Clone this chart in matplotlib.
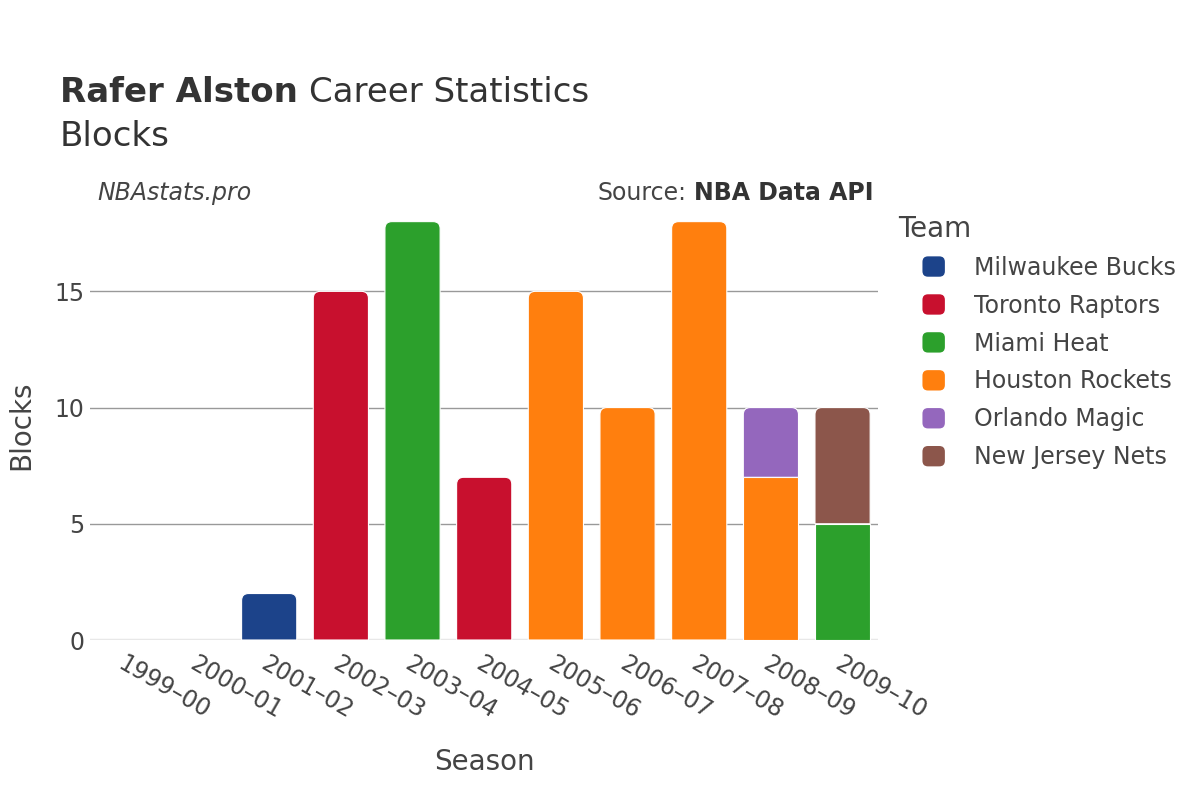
import numpy as np
import matplotlib.pyplot as plt
from matplotlib.path import Path
from matplotlib.patches import PathPatch, Patch, FancyBboxPatch
from matplotlib.legend_handler import HandlerPatch

plt.rcParams['font.family'] = ['DejaVu Sans']

seasons = ["1999–00", "2000–01", "2001–02", "2002–03", "2003–04", "2004–05",
           "2005–06", "2006–07", "2007–08", "2008–09", "2009–10"]
teams = ["Milwaukee Bucks", "Toronto Raptors", "Miami Heat",
         "Houston Rockets", "Orlando Magic", "New Jersey Nets"]
colors = ["#1c438a", "#c8102e", "#2ca02c", "#ff7f0e", "#9467bd", "#8c564b"]

# blocks per season for each team
bucks = [0, 0, 2, 0, 0, 0, 0, 0, 0, 0, 0]
raptors = [0, 0, 0, 15, 0, 7, 0, 0, 0, 0, 0]
heat = [0, 0, 0, 0, 18, 0, 0, 0, 0, 0, 5]
rockets = [0, 0, 0, 0, 0, 0, 15, 10, 18, 7, 0]
magic = [0, 0, 0, 0, 0, 0, 0, 0, 0, 3, 0]
nets = [0, 0, 0, 0, 0, 0, 0, 0, 0, 0, 5]
series = [bucks, raptors, heat, rockets, magic, nets]

fig = plt.figure(figsize=(12, 8), dpi=100)
ax = fig.add_axes([0.075, 0.2, 0.657, 0.5375])

x = np.arange(len(seasons))
width = 0.77
ymax = 18.5
ax.set_xlim(-0.5, len(seasons) - 0.5)
ax.set_ylim(0, ymax)

# corner radius in pixels -> data units
ax_w = 0.657 * 1200
ax_h = 0.5375 * 800
rad_px = 7
rx = rad_px * len(seasons) / ax_w
ry = rad_px * ymax / ax_h


def rounded_top(x0, x1, y0, y1):
    verts = [(x0, y0), (x1, y0), (x1, y1 - ry), (x1, y1), (x1 - rx, y1),
             (x0 + rx, y1), (x0, y1), (x0, y1 - ry), (x0, y0)]
    codes = [Path.MOVETO, Path.LINETO, Path.LINETO, Path.CURVE3, Path.CURVE3,
             Path.LINETO, Path.CURVE3, Path.CURVE3, Path.CLOSEPOLY]
    return Path(verts, codes)


bottom = np.zeros(len(seasons))
totals = np.sum(series, axis=0)
for team, vals, col in zip(teams, series, colors):
    vals = np.array(vals, dtype=float)
    for i in range(len(seasons)):
        if vals[i] <= 0:
            continue
        top = bottom[i] + vals[i]
        if np.isclose(top, totals[i]):
            path = rounded_top(x[i] - width / 2, x[i] + width / 2, bottom[i], top)
            ax.add_patch(PathPatch(path, facecolor=col, edgecolor='white',
                                   linewidth=0.8, zorder=3))
        else:
            ax.bar(x[i], vals[i], width, bottom=bottom[i], color=col,
                   edgecolor='white', linewidth=0.8, zorder=3)
    bottom += vals

ax.set_yticks([0, 5, 10, 15])
ax.grid(axis='y', color='#999999', linewidth=1, zorder=0)
ax.axhline(0, color='#e8e8e8', linewidth=2.5, zorder=2)
for s in ax.spines.values():
    s.set_visible(False)
ax.tick_params(axis='y', length=0, labelsize=17, colors='#444444', pad=4)
ax.tick_params(axis='x', length=0, labelsize=17, colors='#444444', pad=8)
ax.set_xticks(x)
ax.set_xticklabels(seasons, rotation=-30, ha='left', va='top',
                   rotation_mode='anchor')
ax.set_xlabel("Season", fontsize=20, color='#444444', labelpad=18)
ax.set_ylabel("Blocks", fontsize=20, color='#444444', labelpad=14)

# title
fig.canvas.draw()
r = fig.canvas.get_renderer()
t1 = fig.text(0.05, 0.872, "Rafer Alston", fontsize=24.5, fontweight='bold', color='#333333')
w1 = t1.get_window_extent(r).width / 1200
fig.text(0.05 + w1 + 0.009, 0.872, "Career Statistics", fontsize=24.5, color='#333333')
fig.text(0.05, 0.818, "Blocks", fontsize=24.5, color='#333333')

fig.text(0.081, 0.75, "NBAstats.pro", fontsize=17, style='italic', color='#444444')
src_b = fig.text(0.728, 0.75, "NBA Data API", fontsize=17, fontweight='bold',
                 color='#333333', ha='right')
wb = src_b.get_window_extent(r).width / 1200
fig.text(0.728 - wb - 0.006, 0.75, "Source:", fontsize=17, color='#444444', ha='right')


# legend with rounded swatches
def round_swatch(legend, orig_handle, xdescent, ydescent, width, height, fontsize):
    return FancyBboxPatch((-xdescent, -ydescent), width, height,
                          boxstyle="round,pad=0,rounding_size=4")


fig.text(898 / 1200, 1 - 237 / 800, "Team", fontsize=20, color='#444444')
handles = [Patch(facecolor=c, edgecolor='none') for c in colors]
leg = fig.legend(handles, teams, loc='upper left', bbox_to_anchor=(0.751, 0.707),
                 frameon=False, fontsize=17,
                 handlelength=0.95, handleheight=0.95, handletextpad=1.25,
                 labelspacing=0.59,
                 handler_map={Patch: HandlerPatch(patch_func=round_swatch)})
for t in leg.get_texts():
    t.set_color('#444444')

fig.savefig("out.png", dpi=100)
